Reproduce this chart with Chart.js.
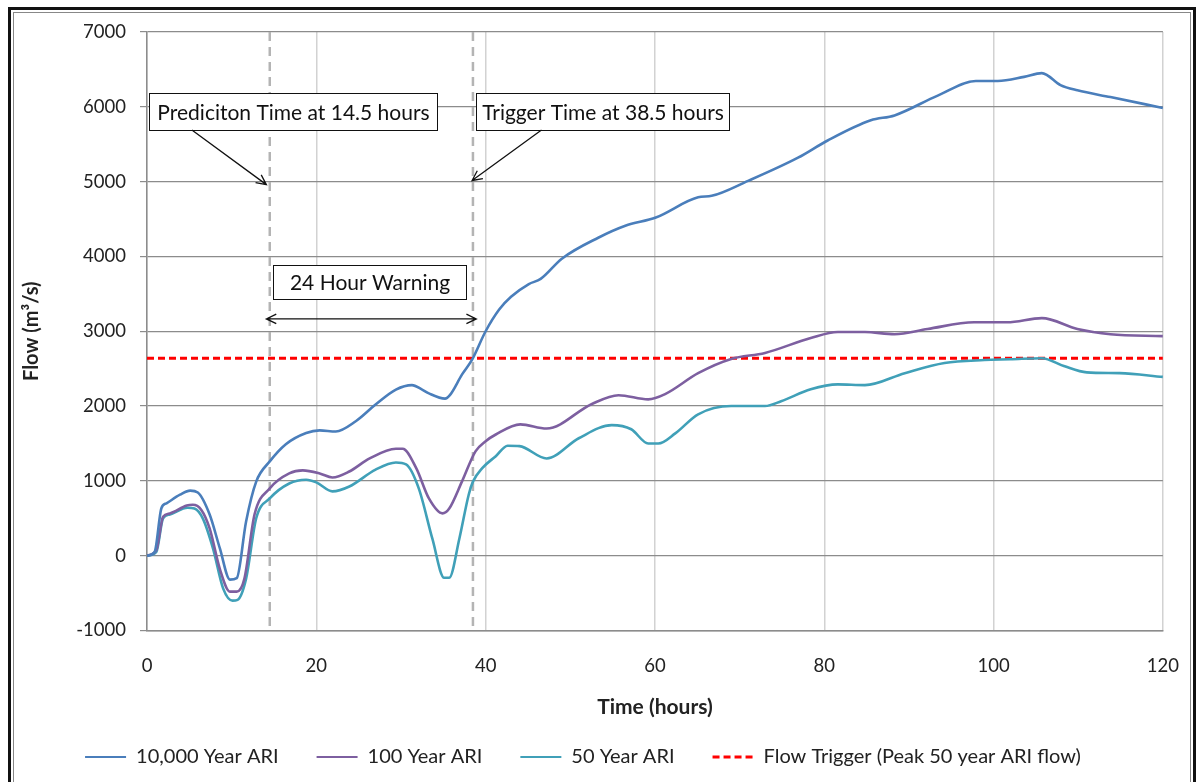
<!DOCTYPE html>
<html>
<head>
<meta charset="utf-8">
<script src="https://cdn.jsdelivr.net/npm/chart.js@4.4.1/dist/chart.umd.min.js"></script>
<style>
  html, body { margin: 0; padding: 0; background: #fff; overflow: hidden; }
  #wrap { position: relative; width: 1203px; height: 782px; overflow: hidden; }
  canvas { position: absolute; left: 0; top: 0; }
  .frame { position: absolute; pointer-events: none; box-sizing: border-box; }
  #outer { left: 8px; top: 7px; width: 1188px; height: 800px; border: 3px solid #111; }
  #inner { left: 13px; top: 12px; width: 1178px; height: 800px; border: 1px solid #888; }
</style>
</head>
<body>
<div id="wrap">
  <canvas id="chart" width="1203" height="782"></canvas>
  <div class="frame" id="outer"></div>
  <div class="frame" id="inner"></div>
</div>
<script>
// Caudal vs tiempo para tres eventos ARI + umbral de disparo

// ---------- Datos ----------
const hours10000 = [0, 0.9, 1.7, 2.3, 3.9, 5.1, 6.0, 7.4, 8.6, 9.8, 10.6, 11.7, 12.9, 14.5, 16.4, 18.8, 20.4, 22.3, 24.7, 27.0, 29.4, 31.3, 32.5, 33.3, 35.2, 35.8, 37.2, 38.4, 40.0, 41.6, 43.0, 45.1, 46.5, 49.0, 53.3, 56.5, 60.1, 65.1, 66.7, 71.0, 76.9, 80.4, 85.5, 88.3, 93.4, 97.9, 100.5, 103.6, 105.7, 107.9, 109.9, 113.8, 120]
const flow10000 = [0, 50, 634, 700, 815, 870, 845, 550, 100, -320, -300, 455, 990, 1260, 1490, 1640, 1675, 1660, 1800, 2020, 2220, 2280, 2220, 2170, 2100, 2150, 2420, 2620, 3000, 3290, 3460, 3630, 3700, 3970, 4250, 4410, 4520, 4790, 4810, 5010, 5320, 5550, 5820, 5885, 6150, 6345, 6345, 6400, 6450, 6290, 6220, 6130, 5985]

const hours100 = [0, 1.1, 1.9, 2.7, 4.7, 5.4, 6.4, 7.4, 8.6, 9.8, 10.6, 11.5, 12.7, 14.5, 16.8, 18.4, 20.4, 21.9, 23.9, 26.3, 29.4, 30.2, 31.8, 33.3, 34.9, 35.7, 37.2, 38.8, 40.0, 41.2, 44.1, 47.2, 52.5, 55.7, 59.2, 61.2, 65.1, 69.0, 73.0, 78.4, 81.6, 84.8, 88.3, 92.2, 97.7, 101.6, 105.7, 109.9, 113.8, 120]
const flow100 = [0, 75, 520, 565, 670, 680, 615, 365, -175, -480, -480, -310, 550, 900, 1100, 1140, 1100, 1045, 1125, 1300, 1430, 1430, 1170, 765, 565, 630, 990, 1395, 1530, 1620, 1755, 1700, 2025, 2145, 2090, 2160, 2440, 2630, 2710, 2910, 2990, 2990, 2960, 3030, 3120, 3120, 3175, 3030, 2960, 2935]

const hours50 = [0, 1.1, 1.9, 2.7, 4.8, 5.6, 6.6, 7.8, 9.0, 10.1, 10.7, 11.7, 12.9, 14.5, 16.8, 18.8, 20.0, 21.9, 23.9, 27.0, 29.4, 30.6, 32.1, 33.7, 35.1, 35.7, 36.9, 38.0, 38.5, 39.6, 41.2, 42.6, 44.0, 47.2, 51.0, 54.9, 57.2, 59.2, 60.4, 62.4, 65.1, 69.0, 73.0, 74.9, 78.4, 81.6, 84.8, 89.5, 94.2, 98.9, 102.0, 105.7, 108.3, 111.0, 114.9, 120]
const flow50 = [0, 50, 500, 550, 640, 630, 495, 95, -440, -600, -590, -310, 500, 765, 965, 1015, 980, 860, 925, 1150, 1245, 1220, 900, 230, -295, -295, 230, 815, 990, 1170, 1330, 1470, 1465, 1300, 1570, 1745, 1690, 1500, 1500, 1635, 1890, 2000, 2000, 2065, 2225, 2290, 2280, 2440, 2575, 2615, 2625, 2640, 2535, 2450, 2440, 2390]

const triggerHours = [0, 120]
const triggerFlow = [2640, 2640]

const seriesLabels = ['10,000 Year ARI', '100 Year ARI', '50 Year ARI', 'Flow Trigger (Peak 50 year ARI flow)']
const xTicks = [0, 20, 40, 60, 80, 100, 120]
const yTicks = [-1000, 0, 1000, 2000, 3000, 4000, 5000, 6000, 7000]

const PREDICTION_HOUR = 14.5
const TRIGGER_HOUR = 38.5

// ---------- Helpers ----------
function puntos(xs, ys) {
  return xs.map((x, i) => ({ x, y: ys[i] }))
}

function flecha(ctx, x1, y1, x2, y2, dosPuntas) {
  const largo = 11
  const ang = Math.atan2(y2 - y1, x2 - x1)
  ctx.beginPath()
  ctx.moveTo(x1, y1)
  ctx.lineTo(x2, y2)
  const punta = (x, y, a) => {
    ctx.moveTo(x - largo * Math.cos(a - 0.45), y - largo * Math.sin(a - 0.45))
    ctx.lineTo(x, y)
    ctx.lineTo(x - largo * Math.cos(a + 0.45), y - largo * Math.sin(a + 0.45))
  }
  punta(x2, y2, ang)
  if (dosPuntas) punta(x1, y1, ang + Math.PI)
  ctx.stroke()
}

function caja(ctx, xs, ys, texto) {
  const l = Math.round(xs.getPixelForValue(texto.x0)) + 0.5
  const r = Math.round(xs.getPixelForValue(texto.x1)) + 0.5
  const t = Math.round(ys.getPixelForValue(texto.y0)) + 0.5
  const b = Math.round(ys.getPixelForValue(texto.y1)) + 0.5
  ctx.fillStyle = '#fff'
  ctx.fillRect(l, t, r - l, b - t)
  ctx.strokeStyle = '#111'
  ctx.lineWidth = 1
  ctx.setLineDash([])
  ctx.strokeRect(l, t, r - l, b - t)
  ctx.fillStyle = '#111'
  ctx.font = "21px Lato, 'Noto Sans', sans-serif"
  ctx.textAlign = 'center'
  ctx.textBaseline = 'middle'
  ctx.fillText(texto.text, (l + r) / 2, (t + b) / 2 + 1)
}

// Cajas y flechas (en unidades de los ejes)
const notas = [
  { text: 'Prediciton Time at 14.5 hours', x0: 0.2, x1: 34.2, y0: 6180, y1: 5695 },
  { text: 'Trigger Time at 38.5 hours', x0: 38.9, x1: 68.7, y0: 6180, y1: 5695 },
  { text: '24 Hour Warning', x0: 14.85, x1: 37.7, y0: 3890, y1: 3430 }
]
const flechas = [
  { x1: 5.3, y1: 5690, x2: 14.1, y2: 4960, doble: false },
  { x1: 46.6, y1: 5690, x2: 38.4, y2: 5015, doble: false },
  { x1: 14.1, y1: 3165, x2: 38.9, y2: 3165, doble: true }
]

const pluginNotas = {
  id: 'notasCaudal',
  beforeDatasetsDraw(chart) {
    const { ctx, chartArea, scales: { x } } = chart
    ctx.save()
    ctx.strokeStyle = '#b4b4b4'
    ctx.lineWidth = 2.5
    ctx.setLineDash([9, 6])
    ;[PREDICTION_HOUR, TRIGGER_HOUR].forEach(h => {
      const px = x.getPixelForValue(h)
      ctx.beginPath()
      ctx.moveTo(px, chartArea.top)
      ctx.lineTo(px, chartArea.bottom)
      ctx.stroke()
    })
    ctx.restore()
  },
  afterDatasetsDraw(chart) {
    const { ctx, scales: { x, y } } = chart
    ctx.save()
    notas.forEach(n => caja(ctx, x, y, n))
    ctx.strokeStyle = '#111'
    ctx.lineWidth = 1.3
    ctx.setLineDash([])
    flechas.forEach(f => flecha(ctx, x.getPixelForValue(f.x1), y.getPixelForValue(f.y1),
      x.getPixelForValue(f.x2), y.getPixelForValue(f.y2), f.doble))
    ctx.restore()
  }
}

// ---------- Chart ----------
Chart.defaults.font.family = "Lato, 'Noto Sans', sans-serif"
Chart.defaults.color = '#222'

const lineaBase = { borderWidth: 2.6, pointRadius: 0, fill: false, cubicInterpolationMode: 'monotone' }

new Chart(document.getElementById('chart'), {
  type: 'line',
  data: {
    datasets: [
      { ...lineaBase, label: seriesLabels[0], data: puntos(hours10000, flow10000), borderColor: '#4A7EBB' },
      { ...lineaBase, label: seriesLabels[1], data: puntos(hours100, flow100), borderColor: '#7D5FA0' },
      { ...lineaBase, label: seriesLabels[2], data: puntos(hours50, flow50), borderColor: '#40A0B8' },
      { ...lineaBase, label: seriesLabels[3], data: puntos(triggerHours, triggerFlow), borderColor: '#FF0000', borderWidth: 3, borderDash: [7, 4] }
    ]
  },
  options: {
    responsive: false,
    animation: false,
    layout: { padding: { top: 32, right: 37, left: 0, bottom: 5 } },
    plugins: {
      tooltip: { enabled: false },
      legend: {
        position: 'bottom',
        labels: {
          usePointStyle: true,
          pointStyle: 'line',
          pointStyleWidth: 41,
          boxWidth: 41,
          padding: 38,
          color: '#222',
          font: { size: 20 },
          // con usePointStyle la leyenda toma el estilo del punto: se copia el trazo del dataset
          generateLabels: chart => Chart.defaults.plugins.legend.labels.generateLabels(chart)
            .map(l => {
              const ds = chart.data.datasets[l.datasetIndex]
              const dash = ds.borderDash || []
              return { ...l, lineDash: dash, lineCap: 'butt', lineWidth: dash.length ? 3 : 2 }
            })
        }
      }
    },
    scales: {
      x: {
        type: 'linear',
        min: xTicks[0],
        max: xTicks[xTicks.length - 1],
        afterBuildTicks: s => { s.ticks = xTicks.map(v => ({ value: v })) },
        ticks: { color: '#222', font: { size: 18.5 }, padding: 24 },
        grid: { color: '#d2d2d2', lineWidth: 1.5, drawTicks: false },
        border: { color: '#8c8c8c', width: 1.5 },
        title: { display: true, text: 'Time (hours)', color: '#222', font: { size: 21, weight: 'bold' }, padding: { top: 0, bottom: -10.8 } },
        afterFit: s => { s.height = 78.5 }
      },
      y: {
        min: yTicks[0],
        max: yTicks[yTicks.length - 1],
        afterBuildTicks: s => { s.ticks = yTicks.map(v => ({ value: v })) },
        ticks: { color: '#222', font: { size: 18.5 }, padding: 14, callback: v => String(v) },
        grid: { color: '#8c8c8c', lineWidth: 1.2, tickLength: 7 },
        border: { color: '#8c8c8c', width: 1.5 },
        title: { display: true, text: 'Flow (m³/s)', color: '#222', font: { size: 20, weight: 'bold' }, padding: { top: 20, bottom: 0 } },
        afterFit: s => { s.width = 147 }
      }
    }
  },
  plugins: [pluginNotas]
})
</script>
</body>
</html>
